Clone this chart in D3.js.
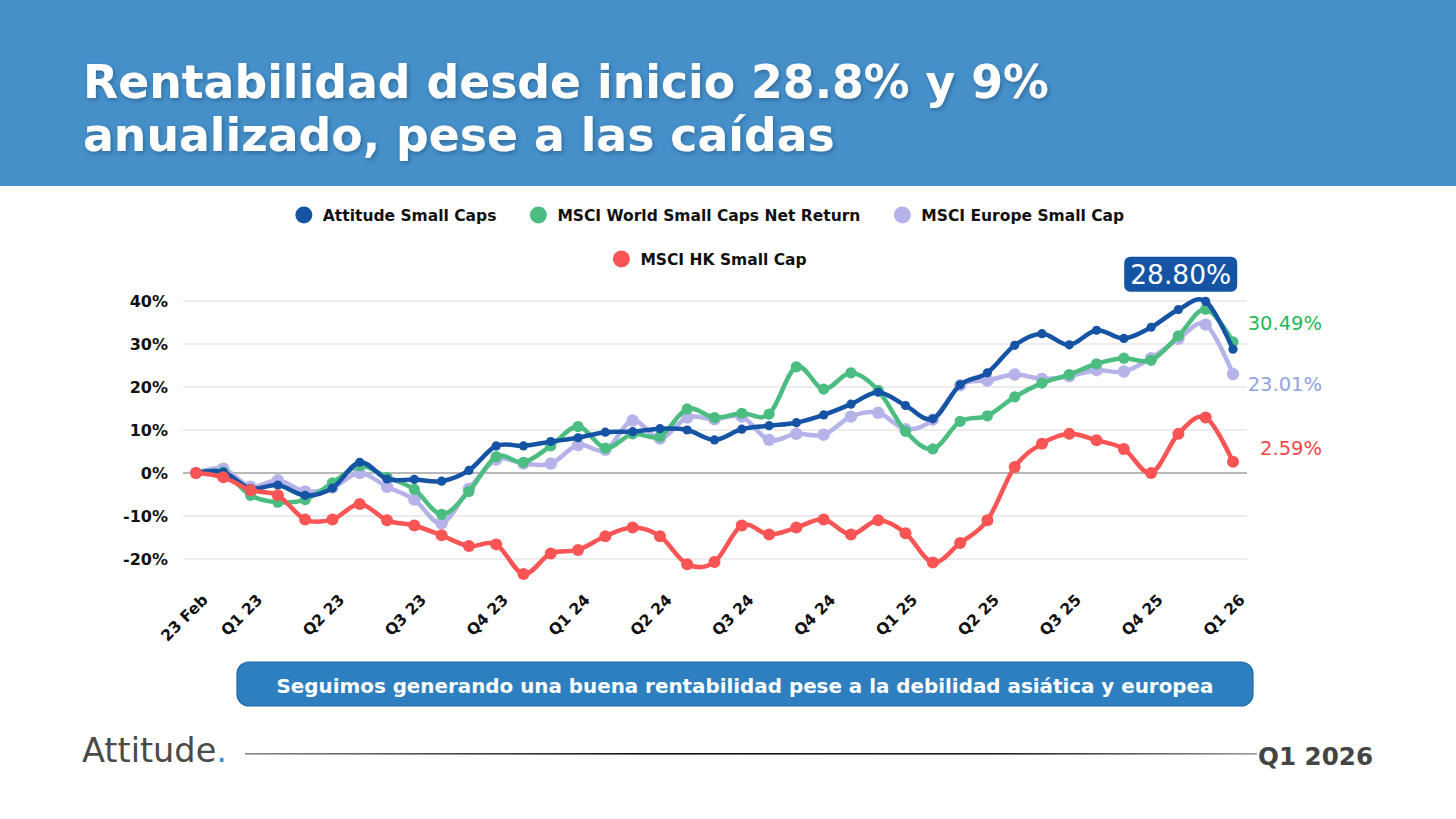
<!DOCTYPE html>
<html><head><meta charset="utf-8">
<script src="https://cdn.jsdelivr.net/npm/d3@7"></script>
<style>
html,body{margin:0;padding:0;background:#fff;}
svg{display:block;}
</style></head>
<body>
<svg id="c" width="1456" height="819"></svg>
<script>
// ---------- DATA ----------
const categories = ["Feb 23","Mar 23","Apr 23","May 23","Jun 23","Jul 23","Aug 23","Sep 23","Oct 23","Nov 23","Dec 23",
  "Jan 24","Feb 24","Mar 24","Apr 24","May 24","Jun 24","Jul 24","Aug 24","Sep 24","Oct 24","Nov 24","Dec 24",
  "Jan 25","Feb 25","Mar 25","Apr 25","May 25","Jun 25","Jul 25","Aug 25","Sep 25","Oct 25","Nov 25","Dec 25",
  "Jan 26","Feb 26","Mar 26","Apr 26"];
const tickIndex = [0,2,5,8,11,14,17,20,23,26,29,32,35,38];
const tickLabels = ["23 Feb","Q1 23","Q2 23","Q3 23","Q4 23","Q1 24","Q2 24","Q3 24","Q4 24","Q1 25","Q2 25","Q3 25","Q4 25","Q1 26"];
const seriesNames = ["Attitude Small Caps","MSCI World Small Caps Net Return","MSCI Europe Small Cap","MSCI HK Small Cap"];
const attitude = [0,0.2,-3.6,-2.8,-5.2,-3.5,2.5,-1.4,-1.5,-1.9,0.6,6.3,6.3,7.3,8.2,9.5,9.6,10.3,10.0,7.7,10.2,11.0,11.7,13.5,16.0,18.8,15.7,12.6,20.5,23.3,29.7,32.4,29.8,33.2,31.3,33.9,38.0,39.9,28.8];
const msciWorld = [0,0.2,-5.2,-6.8,-6.2,-2.3,1.7,-1.0,-3.8,-9.6,-4.3,3.8,2.5,6.3,10.8,5.8,9.1,8.5,14.9,12.9,13.9,13.7,24.7,19.5,23.3,19.2,9.7,5.6,12.0,13.3,17.7,20.9,22.9,25.4,26.7,26.2,31.9,38.1,30.49];
const msciEurope = [0,1.0,-3.2,-1.7,-4.3,-3.4,0,-3.2,-6.2,-11.7,-3.7,3.1,2.2,2.2,6.5,5.4,12.2,8.0,12.9,12.5,13.1,7.7,9.1,8.9,13.1,14.0,10.2,12.4,20.4,21.5,22.9,21.9,22.5,23.9,23.6,26.7,31.2,34.5,23.01];
const msciHK = [0,-1.0,-4.0,-5.2,-10.8,-10.8,-7.2,-11.0,-12.2,-14.5,-17.0,-16.6,-23.5,-18.7,-17.9,-14.7,-12.7,-14.7,-21.2,-20.7,-12.2,-14.3,-12.7,-10.8,-14.3,-11.0,-14.0,-20.8,-16.3,-11.0,1.4,6.8,9.1,7.6,5.6,0,9.1,12.9,2.59];
const yTicks = [-20,-10,0,10,20,30,40];
const endLabels = ["28.80%","30.49%","23.01%","2.59%"];

// ---------- LAYOUT / STYLE ----------
const colors = ["#1554a4","#4cbd80","#b6b2ea","#fb5455"];
const labelColors = ["#1554a4","#1fba55","#8fa3e0","#f24848"];
const W = 1456, H = 819;
const svg = d3.select("#c");
const FONT = "'DejaVu Sans', sans-serif";

const defs = svg.append("defs");
const sh = defs.append("filter").attr("id","tshadow").attr("x","-5%").attr("y","-20%").attr("width","110%").attr("height","140%");
sh.append("feDropShadow").attr("dx",1.5).attr("dy",2).attr("stdDeviation",2).attr("flood-color","#1b3a5c").attr("flood-opacity",0.45);
const lg = defs.append("linearGradient").attr("id","fline");
lg.append("stop").attr("offset","0%").attr("stop-color","#888");
lg.append("stop").attr("offset","40%").attr("stop-color","#111");
lg.append("stop").attr("offset","75%").attr("stop-color","#222");
lg.append("stop").attr("offset","100%").attr("stop-color","#999");

function fit(sel, width){
  const n = sel.node(); const len = n.getComputedTextLength();
  const fs = parseFloat(sel.attr("font-size"));
  sel.attr("font-size", fs*width/len);
  return sel;
}

// Header
svg.append("rect").attr("x",0).attr("y",0).attr("width",W).attr("height",186).attr("fill","#4690ca");
const t1 = svg.append("text").attr("x",83).attr("y",98).attr("fill","#fff").attr("font-family",FONT).attr("font-weight",700)
  .attr("font-size",50).attr("filter","url(#tshadow)").text("Rentabilidad desde inicio 28.8% y 9%");
fit(t1, 966);
const t2 = svg.append("text").attr("x",83).attr("y",151).attr("fill","#fff").attr("font-family",FONT).attr("font-weight",700)
  .attr("font-size",t1.attr("font-size")).attr("filter","url(#tshadow)").text("anualizado, pese a las caídas");

// Scales
const x = d3.scalePoint().domain(d3.range(categories.length)).range([196,1233]);
const y = d3.scaleLinear().domain([-20,40]).range([559,301]);

// Grid
const g = svg.append("g");
g.selectAll("line.grid").data(yTicks).join("line")
  .attr("x1",183).attr("x2",1247).attr("y1",d=>y(d)).attr("y2",d=>y(d))
  .attr("stroke",d=>d===0?"#a0a0a0":"#dcdcdc").attr("stroke-width",d=>d===0?1.3:1.2);
const yAxis = d3.axisLeft(y).tickValues(yTicks).tickFormat(d=>d+"%").tickSize(0).tickPadding(0);
const ya = svg.append("g").attr("transform","translate(168,0)").call(yAxis);
ya.select(".domain").remove();
ya.selectAll("text").attr("font-family",FONT).attr("font-weight",700).attr("font-size",16).attr("fill","#111").attr("dy","0.36em");

// X axis labels
const xa = svg.append("g");
xa.selectAll("text").data(tickIndex).join("text")
  .attr("transform",(d)=>`translate(${x(d)+9},${597}) rotate(-45)`)
  .attr("text-anchor","end").attr("dy","0.35em")
  .attr("font-family",FONT).attr("font-weight",700).attr("font-size",15.5).attr("fill","#111")
  .text((d,i)=>tickLabels[i]);

// Lines
const allSeries = [attitude, msciWorld, msciEurope, msciHK];
const order = [2,1,0,3];
const radii = [4.6,5.6,6.2,6];
const line = d3.line().x((d,i)=>x(i)).y(d=>y(d)).curve(d3.curveCardinal.tension(0));
order.forEach(k=>{
  const gg = svg.append("g");
  gg.append("path").attr("d",line(allSeries[k])).attr("fill","none").attr("stroke",colors[k])
    .attr("stroke-width",4.5).attr("stroke-linejoin","round").attr("stroke-linecap","round");
  gg.selectAll("circle").data(allSeries[k]).join("circle")
    .attr("cx",(d,i)=>x(i)).attr("cy",d=>y(d)).attr("r",radii[k]).attr("fill",colors[k]);
});

// Callout box for Attitude
const last = categories.length-1;
const bx = x(last-1)-25, by = y(46.2);
svg.append("rect").attr("x",bx-56.5).attr("y",by-17.5).attr("width",113).attr("height",35).attr("rx",6).attr("fill",colors[0]);
const bt = svg.append("text").attr("x",bx).attr("y",by).attr("text-anchor","middle").attr("dy","0.36em")
  .attr("font-family",FONT).attr("font-weight",500).attr("font-size",26).attr("fill","#fff").text(endLabels[0]);
fit(bt, 101);

// End labels
const labelPos = [null, 34.9, 20.7, 5.8];
[1,2,3].forEach(k=>{
  svg.append("text").attr("x",x(last)+89).attr("y",y(labelPos[k])).attr("dy","0.36em").attr("text-anchor","end")
    .attr("font-family",FONT).attr("font-weight",500).attr("font-size",19.5).attr("fill",labelColors[k]).text(endLabels[k]);
});

// Legend
function legendRow(items, cy){
  const grp = svg.append("g");
  const widths = [];
  items.forEach(k=>{
    const t = grp.append("text").attr("font-family",FONT).attr("font-weight",700).attr("font-size",15.5).attr("fill","#111")
      .attr("y",cy).attr("dy","0.36em").text(seriesNames[k]);
    widths.push({t, w:t.node().getComputedTextLength(), k});
  });
  const total = d3.sum(widths, d=>d.w+27) + 34*(items.length-1);
  let cx = 710 - total/2;
  widths.forEach(d=>{
    grp.append("circle").attr("cx",cx+8).attr("cy",cy).attr("r",8.5).attr("fill",colors[d.k]);
    d.t.attr("x",cx+27);
    cx += d.w+27+34;
  });
}
legendRow([0,1,2],215);
legendRow([3],259);

// Bottom message box
svg.append("rect").attr("x",237).attr("y",662).attr("width",1016).attr("height",44).attr("rx",12)
  .attr("fill","#2e7fc0").attr("stroke","#1c68a8").attr("stroke-width",1.2);
const mt = svg.append("text").attr("x",745).attr("y",686).attr("dy","0.36em").attr("text-anchor","middle")
  .attr("font-family",FONT).attr("font-weight",700).attr("font-size",17).attr("fill","#fff")
  .text("Seguimos generando una buena rentabilidad pese a la debilidad asiática y europea");
fit(mt, 938);

// Footer
const ft = svg.append("text").attr("x",82).attr("y",762).attr("font-family",FONT).attr("font-weight",400).attr("font-size",30).attr("fill","#4a4a4a");
ft.append("tspan").text("Attitude");
ft.append("tspan").attr("fill","#3a8fd6").text(".");
fit(ft, 145);
svg.append("rect").attr("x",245).attr("y",753).attr("width",1012).attr("height",1.6).attr("fill","url(#fline)");
const qt = svg.append("text").attr("x",1373).attr("y",765).attr("text-anchor","end").attr("font-family",FONT).attr("font-weight",700)
  .attr("font-size",21).attr("fill","#444").text("Q1 2026");
fit(qt, 115);
</script>
</body></html>
